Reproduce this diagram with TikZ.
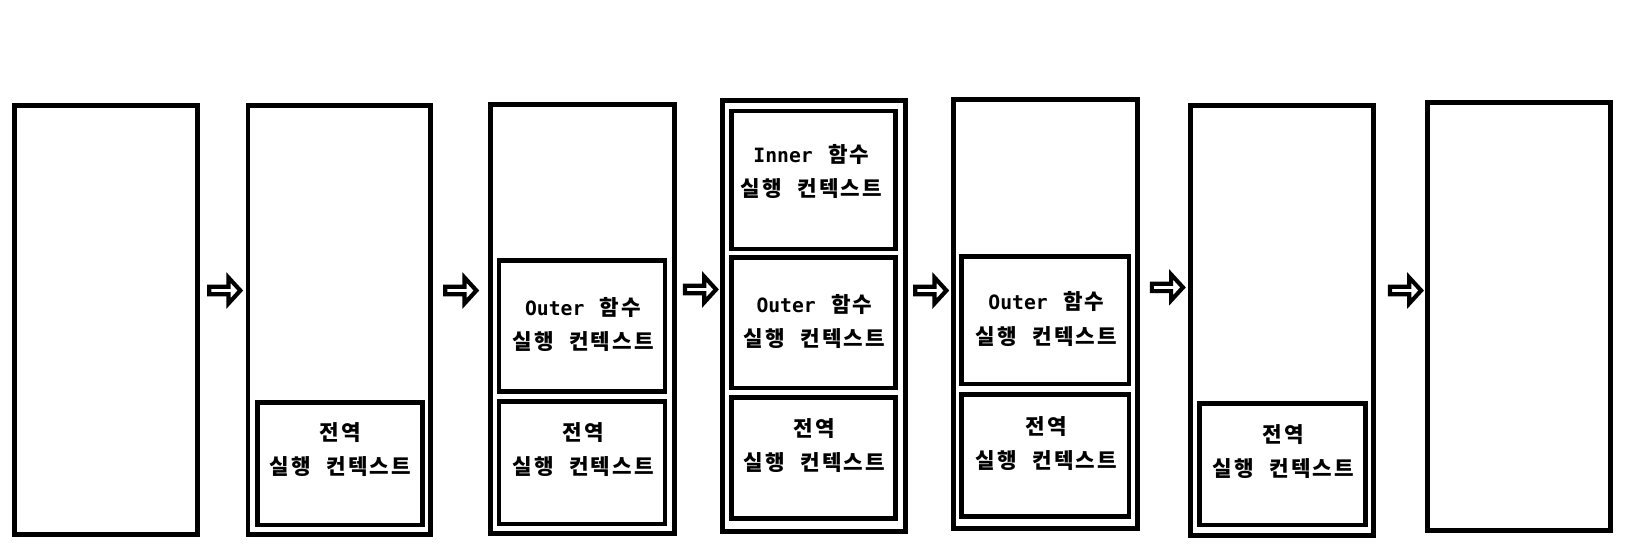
\documentclass[tikz,border=0pt]{standalone}
\usepackage{fontspec}
\newfontfamily\kr{Noto Sans CJK KR}[LetterSpace=10, WordSpace=2.2]
\newfontfamily\lat{DejaVu Sans Mono}
\newcommand\latw[1]{{\lat\bfseries\fontsize{19}{33}\selectfont #1}}
\usetikzlibrary{shapes.arrows}
\tikzset{
  frame/.style={draw=black, line width=4.6pt, minimum width=176pt, inner sep=0pt},
  ctx/.style={draw=black, line width=4.6pt, inner sep=0pt},
  lbl/.style={font=\kr\bfseries\fontsize{20.5}{33}\selectfont, align=center, inner sep=0pt},
  blockarrow/.style={single arrow, draw=black, fill=white, line width=4pt, minimum height=30pt,
     minimum width=25pt, single arrow head extend=5pt, inner sep=0pt, single arrow tip angle=95},
}
\begin{document}
\begin{tikzpicture}[x=1pt, y=-1pt]
\useasboundingbox (0,0) rectangle (1570,534);
% outer frames
\node[frame, minimum height=413pt] (b1) at (102,308.5) {};
\node[frame, minimum height=413pt] (b2) at (327,308.5) {};
\node[frame, minimum width=177pt, minimum height=413pt] (b3) at (561.5,307.5) {};
\node[frame, minimum width=177pt, minimum height=415pt] (b4) at (784.5,304.5) {};
\node[frame, minimum width=177pt, minimum height=413pt] (b5) at (1007.5,302.5) {};
\node[frame, minimum width=177pt, minimum height=414pt] (b6) at (1235.5,309) {};
\node[frame, minimum height=412pt] (b7) at (1464,305) {};
% inner context boxes
\node[ctx, minimum width=159pt, minimum height=118pt] (g2) at (327.5,447) {};
\node[ctx, minimum width=160pt, minimum height=126pt] (o3) at (561,314) {};
\node[ctx, minimum width=160pt, minimum height=118pt] (g3) at (561,446) {};
\node[ctx, minimum width=158pt, minimum height=133pt] (i4) at (784,173.5) {};
\node[ctx, minimum width=158pt, minimum height=126pt] (o4) at (784,311) {};
\node[ctx, minimum width=158pt, minimum height=117pt] (g4) at (784,441.5) {};
\node[ctx, minimum width=161pt, minimum height=123pt] (o5) at (1007.5,308.5) {};
\node[ctx, minimum width=161pt, minimum height=118pt] (g5) at (1007.5,439) {};
\node[ctx, minimum width=160pt, minimum height=117pt] (g6) at (1236,447.5) {};
% labels
\node[lbl] (tg2) at (328,433.5) {전역\\실행 컨텍스트};
\node[lbl] (to3) at (562,312.5) {\latw{Outer} 함수\\실행 컨텍스트};
\node[lbl] (tg3) at (562,433) {전역\\실행 컨텍스트};
\node[lbl] (ti4) at (782,165.5) {\latw{Inner} 함수\\실행 컨텍스트};
\node[lbl] (to4) at (785,309.5) {\latw{Outer} 함수\\실행 컨텍스트};
\node[lbl] (tg4) at (785,429.5) {전역\\실행 컨텍스트};
\node[lbl] (to5) at (1008.5,307.5) {\latw{Outer} 함수\\실행 컨텍스트};
\node[lbl] (tg5) at (1008.5,427.5) {전역\\실행 컨텍스트};
\node[lbl] (tg6) at (1237,435.5) {전역\\실행 컨텍스트};
% arrows
\node[blockarrow] (a1) at (215,280) {};
\node[blockarrow] (a2) at (442.5,280) {};
\node[blockarrow] (a3) at (673.5,279) {};
\node[blockarrow] (a4) at (895.5,280) {};
\node[blockarrow] (a5) at (1123.5,277) {};
\node[blockarrow] (a6) at (1353,280) {};
\end{tikzpicture}
\end{document}
